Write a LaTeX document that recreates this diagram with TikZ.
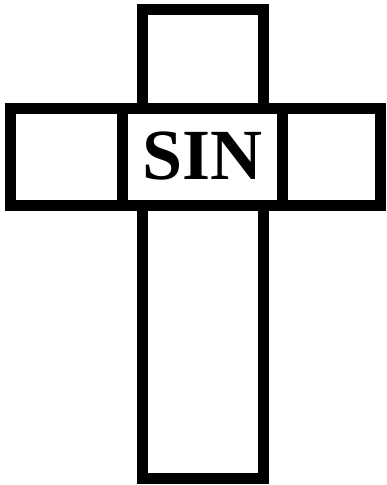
\documentclass[tikz,border=0pt]{standalone}
\usepackage{fontspec}
\setmainfont{Liberation Serif}[BoldFont={Liberation Serif Bold}]
\newfontfamily\sinfont{Liberation Serif Bold}
\begin{document}
\begin{tikzpicture}[x=1pt,y=1pt,
  bar/.style={draw=black,line width=11pt,fill=white,line join=miter},
  label/.style={font=\sinfont\fontsize{72}{72}\selectfont,inner sep=0pt,anchor=base}]
\useasboundingbox (0,0) rectangle (386,485);
% vertical bar of the cross
\draw[bar] (142.8,6.3) rectangle (263.8,475.3);
% horizontal bar of the cross
\draw[bar] (10.5,279.7) rectangle (380.5,376.3);
% centre box
\node[bar,minimum width=160pt,minimum height=96.6pt,inner sep=0pt] (box) at (202.5,328) {};
\node[label] (sin) at (202.5,305) {SIN};
\end{tikzpicture}
\end{document}
